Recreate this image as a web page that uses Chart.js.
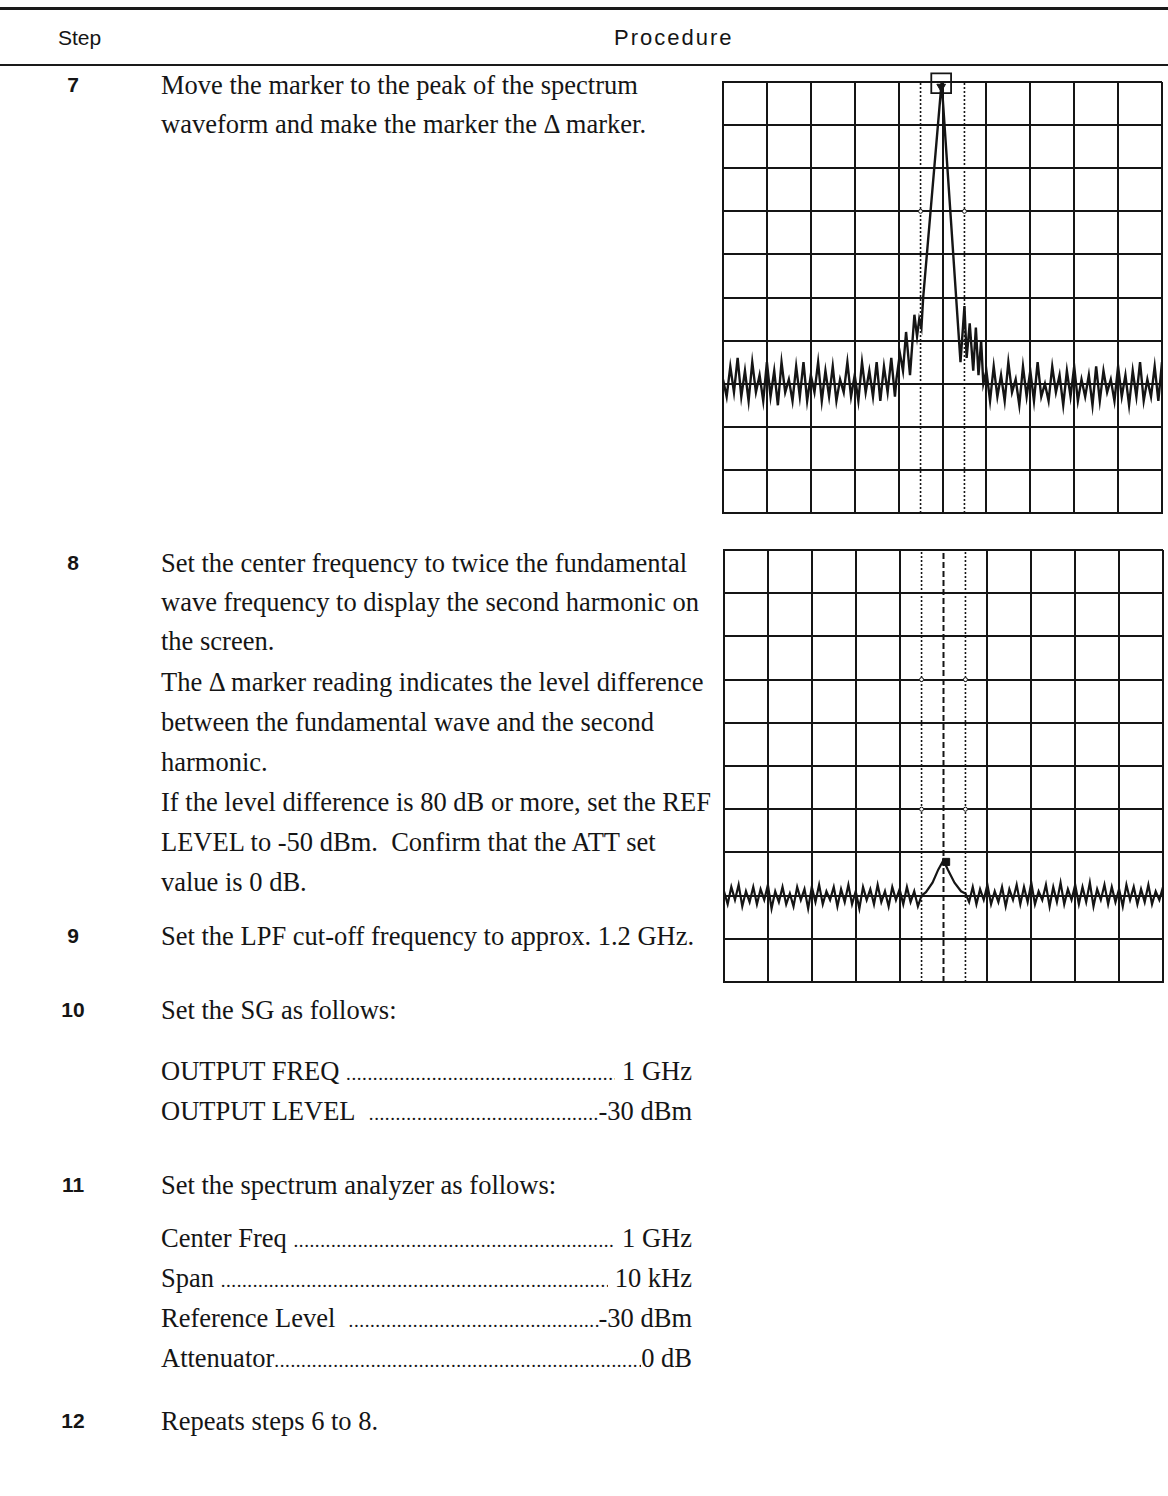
<!DOCTYPE html>
<html>
<head>
<meta charset="utf-8">
<script src="https://cdn.jsdelivr.net/npm/chart.js@4.4.1/dist/chart.umd.min.js"></script>
<style>
  html, body { margin: 0; padding: 0; background: #fff; }
  body { width: 1168px; height: 1496px; position: relative; overflow: hidden; color: #151515; }
  .rule { position: absolute; left: 0; width: 1168px; background: #1a1a1a; }
  .hd { position: absolute; font-family: "Liberation Sans", Arial, sans-serif; font-size: 21px; line-height: 24px; }
  .num { position: absolute; left: 56px; width: 34px; text-align: center; font-family: "Liberation Sans", Arial, sans-serif; font-weight: bold; font-size: 21px; line-height: 24px; }
  .ln { position: absolute; left: 161px; font-family: "Liberation Serif", "Times New Roman", serif; font-size: 26.5px; line-height: 24px; white-space: nowrap; }
  .row { position: absolute; left: 161px; width: 531px; display: flex; align-items: baseline; font-family: "Liberation Serif", "Times New Roman", serif; font-size: 26.5px; line-height: 24px; white-space: nowrap; }
  .row .dots { flex: 1; overflow: hidden; letter-spacing: 0.6px; font-size: 19px; }
  canvas { position: absolute; }
</style>
</head>
<body>
<div class="rule" style="top:7px;height:3px"></div>
<div class="hd" style="left:58px;top:26px">Step</div>
<div class="hd" style="left:614px;top:26px;font-size:22px;letter-spacing:2px">Procedure</div>
<div class="rule" style="top:64px;height:2px"></div>

<div class="num" style="top:73px">7</div>
<div class="ln" style="top:73px">Move the marker to the peak of the spectrum</div>
<div class="ln" style="top:112px">waveform and make the marker the Δ marker.</div>

<div class="num" style="top:551px">8</div>
<div class="ln" style="top:551px">Set the center frequency to twice the fundamental</div>
<div class="ln" style="top:590px">wave frequency to display the second harmonic on</div>
<div class="ln" style="top:629px">the screen.</div>
<div class="ln" style="top:670px">The Δ marker reading indicates the level difference</div>
<div class="ln" style="top:710px">between the fundamental wave and the second</div>
<div class="ln" style="top:750px">harmonic.</div>
<div class="ln" style="top:790px">If the level difference is 80 dB or more, set the REF</div>
<div class="ln" style="top:830px">LEVEL to -50 dBm.&nbsp; Confirm that the ATT set</div>
<div class="ln" style="top:870px">value is 0 dB.</div>

<div class="num" style="top:924px">9</div>
<div class="ln" style="top:924px">Set the LPF cut-off frequency to approx. 1.2 GHz.</div>

<div class="num" style="top:998px">10</div>
<div class="ln" style="top:998px">Set the SG as follows:</div>
<div class="row" style="top:1059px"><span>OUTPUT FREQ&nbsp;</span><span class="dots"></span><span>&nbsp;1 GHz</span></div>
<div class="row" style="top:1099px"><span>OUTPUT LEVEL&nbsp;&nbsp;</span><span class="dots"></span><span>-30 dBm</span></div>

<div class="num" style="top:1173px">11</div>
<div class="ln" style="top:1173px">Set the spectrum analyzer as follows:</div>
<div class="row" style="top:1226px"><span>Center Freq&nbsp;</span><span class="dots"></span><span>&nbsp;1 GHz</span></div>
<div class="row" style="top:1266px"><span>Span&nbsp;</span><span class="dots"></span><span>&nbsp;10 kHz</span></div>
<div class="row" style="top:1306px"><span>Reference Level&nbsp;&nbsp;</span><span class="dots"></span><span>-30 dBm</span></div>
<div class="row" style="top:1346px"><span>Attenuator</span><span class="dots"></span><span>0 dB</span></div>

<div class="num" style="top:1409px">12</div>
<div class="ln" style="top:1409px">Repeats steps 6 to 8.</div>

<canvas id="screen1" width="473" height="465" style="left:706px;top:65px"></canvas>
<canvas id="screen2" width="473" height="466" style="left:707px;top:533px"></canvas>

<script>
const SAMPLES_PER_DIV = 12;

// --- screen 1: fundamental, marker at peak ---
const noise1Left = [3.1, 2.7, 3.4, 2.8, 3.6, 2.7, 3.3, 2.6, 3.5, 2.8, 3.2, 2.6, 3.5, 2.7, 3.3, 2.5,
  3.5, 2.8, 3.1, 2.6, 3.4, 2.7, 3.5, 2.6, 3.2, 2.8, 3.5, 2.6, 3.3, 2.7, 3.4, 2.6,
  3.1, 2.8, 3.5, 2.7, 3.2, 2.6, 3.5, 2.8, 3.3, 2.7, 3.5, 2.6, 3.4, 2.8, 3.6, 2.7];
const peak1X = [3.95, 4.03, 4.10, 4.17, 4.26, 4.36, 4.42, 4.47, 4.52, 4.56, 4.98, 5.41, 5.50, 5.55, 5.62, 5.70, 5.76, 5.82, 5.88, 5.93];
const peak1Y = [3.1, 3.7, 3.3, 4.2, 3.2, 4.6, 4.1, 4.5, 4.3, 5.0, 10.0, 3.5, 4.8, 3.6, 4.4, 3.3, 4.3, 3.2, 4.0, 3.0];
const noise1Right = [3.3, 2.6, 3.4, 2.7, 3.2, 2.6, 3.5, 2.8, 3.1, 2.5, 3.4, 2.7, 3.3, 2.6, 3.5, 2.7,
  3.0, 2.6, 3.4, 2.8, 3.2, 2.5, 3.3, 2.7, 3.4, 2.6, 3.1, 2.7, 3.2, 2.5, 3.4, 2.6,
  3.3, 2.8, 3.1, 2.6, 3.4, 2.7, 3.2, 2.5, 3.3, 2.7, 3.5, 2.6, 3.1, 2.7, 3.4, 2.6, 3.5];
const marker1 = [4.97, 9.97];

// --- screen 2: second harmonic ---
const noise2Left = [2.1, 1.8, 2.2, 1.9, 2.25, 1.75, 2.1, 1.85, 2.2, 1.8, 2.15, 1.9, 2.25, 1.7, 2.1, 1.85,
  2.2, 1.8, 2.05, 1.75, 2.2, 1.9, 2.15, 1.7, 2.2, 1.85, 2.25, 1.8, 2.1, 1.9, 2.2, 1.75,
  2.15, 1.85, 2.25, 1.8, 2.1, 1.7, 2.2, 1.9, 2.15, 1.8, 2.25, 1.85, 2.1, 1.75, 2.2, 1.9,
  2.15, 1.8, 2.2, 1.85, 2.1, 1.75, 2.0];
const peak2X = [4.6, 4.75, 4.88, 5.0, 5.1, 5.25, 5.4];
const peak2Y = [2.08, 2.3, 2.6, 2.82, 2.6, 2.3, 2.1];
const noise2Right = [2.05, 1.85, 2.2, 1.8, 2.15, 1.9, 2.25, 1.8, 2.1, 1.85, 2.2, 1.75, 2.15, 1.9, 2.25, 1.8,
  2.2, 1.85, 2.3, 1.8, 2.1, 1.9, 2.25, 1.75, 2.2, 1.85, 2.3, 1.8, 2.15, 1.9, 2.25, 1.8,
  2.2, 1.85, 2.3, 1.75, 2.15, 1.9, 2.25, 1.8, 2.2, 1.85, 2.15, 1.75, 2.25, 1.9, 2.2, 1.8,
  2.15, 1.85, 2.25, 1.8, 2.1, 1.9, 2.2];
const marker2 = [5.06, 2.78];

// dotted band lines and marker line
const bandX = [4.5, 5.5];
const markerLineX = 5;

const INK = '#151515';
const PAD = 17; // >= marker overflow so the plot area stays where we put it

document.querySelectorAll('.row .dots').forEach(el => { el.textContent = '.'.repeat(200); });

function sweep(left, peakX, peakY, right) {
  const pts = left.map((y, i) => ({ x: i / SAMPLES_PER_DIV, y }));
  peakX.forEach((x, i) => pts.push({ x, y: peakY[i] }));
  const start = SAMPLES_PER_DIV * 10 - right.length + 1;
  right.forEach((y, i) => pts.push({ x: (start + i) / SAMPLES_PER_DIV, y }));
  return pts;
}

function bandLine(x, circles) {
  const ys = [0].concat(circles, [10]);
  return {
    data: ys.map(y => ({ x, y })),
    borderColor: INK,
    borderWidth: 1.6,
    borderDash: [2, 2],
    pointRadius: ys.map(y => (y === 0 || y === 10 ? 0 : 2)),
    pointBackgroundColor: '#fff',
    pointBorderColor: INK,
    pointBorderWidth: 1
  };
}

function makeScreen(id, datasets, hideCenter) {
  const axis = {
    type: 'linear', min: 0, max: 10,
    ticks: { display: false, stepSize: 1 },
    border: { display: true, color: INK, width: 2 },
    grid: { lineWidth: 2, drawTicks: false, color: INK }
  };
  const x = JSON.parse(JSON.stringify(axis));
  const y = JSON.parse(JSON.stringify(axis));
  if (hideCenter) x.grid.color = c => (c.tick && c.tick.value === markerLineX ? 'rgba(0,0,0,0)' : INK);
  return new Chart(document.getElementById(id), {
    type: 'line',
    data: { datasets },
    options: {
      responsive: false,
      animation: false,
      devicePixelRatio: 1,
      layout: { padding: PAD },
      elements: { line: { tension: 0 }, point: { radius: 0 } },
      plugins: { legend: { display: false }, tooltip: { enabled: false } },
      scales: { x, y }
    }
  });
}

makeScreen('screen1', [
  { data: [{ x: marker1[0], y: marker1[1] }], showLine: false, clip: false,
    pointStyle: 'rect', pointRadius: 14, pointBorderWidth: 1.8, pointBorderColor: INK, pointBackgroundColor: 'rgba(0,0,0,0)' },
  { data: [{ x: marker1[0], y: marker1[1] - 0.08 }], showLine: false, clip: false,
    pointStyle: 'triangle', rotation: 180, pointRadius: 5, pointBackgroundColor: INK, pointBorderColor: INK },
  { data: sweep(noise1Left, peak1X, peak1Y, noise1Right), borderColor: INK, borderWidth: 2.4, pointRadius: 0 },
  bandLine(bandX[0], [7]),
  bandLine(bandX[1], [7])
], false);

makeScreen('screen2', [
  { data: [{ x: marker2[0], y: marker2[1] }], showLine: false, clip: false,
    pointStyle: 'rect', pointRadius: 5, pointBackgroundColor: INK, pointBorderColor: INK },
  { data: sweep(noise2Left, peak2X, peak2Y, noise2Right), borderColor: INK, borderWidth: 2.2, pointRadius: 0 },
  { data: [{ x: markerLineX, y: 0 }, { x: markerLineX, y: 10 }], borderColor: INK, borderWidth: 2, borderDash: [6, 3], pointRadius: 0 },
  bandLine(bandX[0], [4, 7]),
  bandLine(bandX[1], [4, 7])
], true);
</script>
</body>
</html>
